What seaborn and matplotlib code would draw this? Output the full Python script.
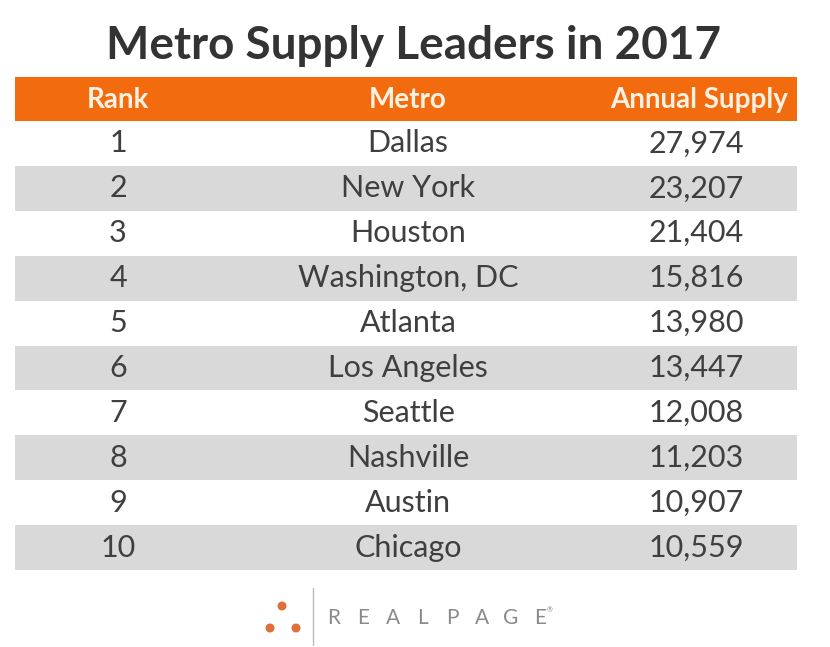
import matplotlib.pyplot as plt
import seaborn as sns
from matplotlib.patches import Rectangle, Circle

sns.set_theme(style="white")
plt.rcParams['font.family'] = ['Lato', 'DejaVu Sans']

# table data
ranks = [1, 2, 3, 4, 5, 6, 7, 8, 9, 10]
metros = ["Dallas", "New York", "Houston", "Washington, DC", "Atlanta",
          "Los Angeles", "Seattle", "Nashville", "Austin", "Chicago"]
supply = [27974, 23207, 21404, 15816, 13980, 13447, 12008, 11203, 10907, 10559]
headers = ["Rank", "Metro", "Annual Supply"]
title = "Metro Supply Leaders in 2017"
brand = "REALPAGE"

orange = "#f26b0f"
stripe = "#d9d9d9"
text_col = "#3f3f3f"

fig = plt.figure(figsize=(8.3, 6.47), dpi=100)
ax = fig.add_axes([0, 0, 1, 1])
ax.set_xlim(0, 830)
ax.set_ylim(647, 0)
ax.axis("off")

left, right = 15, 797
head_top, head_bot = 77, 121
row_h = 44.9

ax.text(413, 46, title, ha="center", va="center", fontsize=33,
        fontweight="bold", color="#333333")

ax.add_patch(Rectangle((left, head_top), right - left, head_bot - head_top,
                       color=orange, lw=0))
hdr_kw = dict(va="center", fontsize=20, fontweight="bold", color="#fdf1e2")
ax.text(118, 100, headers[0], ha="center", **hdr_kw)
ax.text(408, 100, headers[1], ha="center", **hdr_kw)
ax.text(788, 100, headers[2], ha="right", **hdr_kw)

for i, (r, m, s) in enumerate(zip(ranks, metros, supply)):
    y0 = head_bot + i * row_h
    yc = y0 + row_h / 2
    if i % 2 == 1:
        ax.add_patch(Rectangle((left, y0), right - left, row_h,
                               color=stripe, lw=0))
    ax.text(118, yc, str(r), ha="center", va="center", fontsize=22, color=text_col)
    ax.text(408, yc, m, ha="center", va="center", fontsize=22, color=text_col)
    ax.text(744, yc, f"{s:,}", ha="right", va="center", fontsize=22, color=text_col)

# logo
for cx, cy in [(282, 606), (270, 628), (296, 628)]:
    ax.add_patch(Circle((cx, cy), 4.5, color="#e0703a", lw=0))
ax.plot([313, 313], [588, 645], color="#bbbbbb", lw=1)
for k, ch in enumerate(brand):
    ax.text(334 + k * 29.5, 618, ch, ha="center", va="center", fontsize=15,
            color="#8a8a8a")
ax.text(547, 610, "®", ha="left", va="center", fontsize=5, color="#8a8a8a")

fig.savefig("out.png", dpi=100)
